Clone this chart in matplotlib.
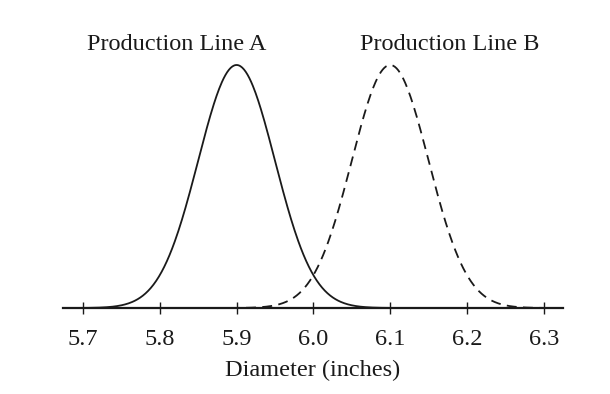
import numpy as np
import matplotlib.pyplot as plt

plt.rcParams['font.family'] = ['Liberation Serif', 'DejaVu Serif']

# distribution parameters (diameter in inches)
lines = ['Production Line A', 'Production Line B']
means = [5.9, 6.1]
sds = [0.05, 0.05]
x_ranges = [(5.674, 6.135), (5.87, 6.325)]
styles = ['-', (0, (5.5, 3.5))]
label_x = [5.822, 6.177]
ticks = [5.7, 5.8, 5.9, 6.0, 6.1, 6.2, 6.3]

fig = plt.figure(figsize=(6.1, 3.94), dpi=100)
ax = fig.add_axes([63 / 610, 86 / 394, 500 / 610, 243 / 394])

col = '#1a1a1a'
for name, mu, sd, (lo, hi), ls, lx in zip(lines, means, sds, x_ranges, styles, label_x):
    x = np.linspace(lo, hi, 400)
    y = np.exp(-0.5 * ((x - mu) / sd) ** 2)
    ax.plot(x, y, color=col, lw=1.3, linestyle=ls, clip_on=False)
    ax.text(lx, 1.086, name, transform=ax.get_xaxis_transform(),
            ha='center', va='center', fontsize=17.5, color=col)

ax.set_xlim(5.674, 6.325)
ax.set_ylim(0, 1)
for s in ['top', 'right', 'left']:
    ax.spines[s].set_visible(False)
ax.spines['bottom'].set_linewidth(1.6)
ax.spines['bottom'].set_color(col)
ax.set_yticks([])
ax.set_xticks(ticks)
ax.set_xticklabels([f'{t:.1f}' for t in ticks])
ax.tick_params(axis='x', direction='inout', length=9, width=1, color=col,
               labelsize=17.5, labelcolor=col, pad=10.5)
ax.set_xlabel('Diameter (inches)', fontsize=17.5, color=col, labelpad=7)

plt.savefig('out.png', dpi=100)
